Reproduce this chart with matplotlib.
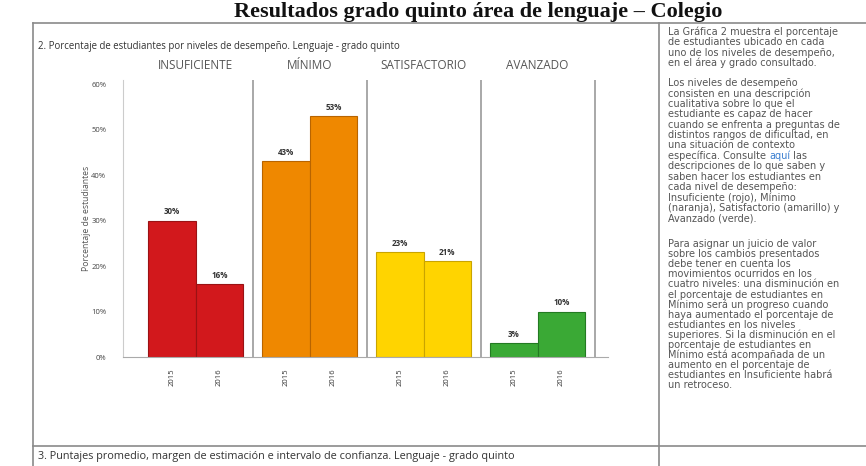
import matplotlib
matplotlib.use("Agg")
import matplotlib.pyplot as plt
from matplotlib.lines import Line2D

plt.rcParams['font.family'] = ['Open Sans', 'DejaVu Sans']

# ---- data ----
niveles = ["INSUFICIENTE", "MÍNIMO", "SATISFACTORIO", "AVANZADO"]
anios = ["2015", "2016"]
valores_2015 = [30, 43, 23, 3]
valores_2016 = [16, 53, 21, 10]
etiquetas_2015 = ["30%", "43%", "23%", "3%"]
etiquetas_2016 = ["16%", "53%", "21%", "10%"]
colores = ["#D2181C", "#EF8800", "#FFD400", "#3AA935"]
bordes = ["#9A1214", "#B86400", "#C9A400", "#237A22"]
yticks = [0, 10, 20, 30, 40, 50, 60]
ytick_labels = ["0%", "10%", "20%", "30%", "40%", "50%", "60%"]

titulo_panel = "2. Porcentaje de estudiantes por niveles de desempeño. Lenguaje - grado quinto"
titulo_sig = "3. Puntajes promedio, margen de estimación e intervalo de confianza. Lenguaje - grado quinto"
encabezado = "Resultados grado quinto área de lenguaje – Colegio"

parrafo1 = ["La Gráfica 2 muestra el porcentaje",
            "de estudiantes ubicado en cada",
            "uno de los niveles de desempeño,",
            "en el área y grado consultado."]
parrafo2 = ["Los niveles de desempeño",
            "consisten en una descripción",
            "cualitativa sobre lo que el",
            "estudiante es capaz de hacer",
            "cuando se enfrenta a preguntas de",
            "distintos rangos de dificultad, en",
            "una situación de contexto",
            "específica. Consulte aquí las",
            "descripciones de lo que saben y",
            "saben hacer los estudiantes en",
            "cada nivel de desempeño:",
            "Insuficiente (rojo), Mínimo",
            "(naranja), Satisfactorio (amarillo) y",
            "Avanzado (verde)."]
parrafo3 = ["Para asignar un juicio de valor",
            "sobre los cambios presentados",
            "debe tener en cuenta los",
            "movimientos ocurridos en los",
            "cuatro niveles: una disminución en",
            "el porcentaje de estudiantes en",
            "Mínimo será un progreso cuando",
            "haya aumentado el porcentaje de",
            "estudiantes en los niveles",
            "superiores. Si la disminución en el",
            "porcentaje de estudiantes en",
            "Mínimo está acompañada de un",
            "aumento en el porcentaje de",
            "estudiantes en Insuficiente habrá",
            "un retroceso."]

W, H = 866, 466
fig = plt.figure(figsize=(W / 100, H / 100), dpi=100)
fig.patch.set_facecolor("white")

def fx(px):
    return px / W

def fy(py):
    return 1 - py / H

# ---- page frame lines ----
line_col = "#8a8a8a"
for (x0, y0, x1, y1) in [(33, 23, 866, 23), (33, 446, 866, 446),
                         (33, 23, 33, 466), (659, 23, 659, 466)]:
    fig.add_artist(Line2D([fx(x0), fx(x1)], [fy(y0), fy(y1)], color=line_col, lw=1.2))

# heading at top (partly hidden in the source screenshot)
fig.text(fx(478), fy(16.5), encabezado, family="Liberation Serif", weight="bold",
         fontsize=16, ha="center", va="baseline", color="#111111")

fig.text(fx(38), fy(46), titulo_panel, fontsize=6.9, color="#333333", va="center")
fig.text(fx(38), fy(456), titulo_sig, fontsize=7.8, color="#333333", va="center")

# ---- chart ----
ax_left, ax_right, ax_top, ax_bot = 123, 608, 80, 357
ax = fig.add_axes([fx(ax_left), fy(ax_bot), (ax_right - ax_left) / W, (ax_bot - ax_top) / H])
ax.set_xlim(-0.636, 3.618)
ax.set_ylim(0, 60.88)

bw = 0.417
for i in range(len(niveles)):
    for j, (vals, labs) in enumerate([(valores_2015, etiquetas_2015), (valores_2016, etiquetas_2016)]):
        xc = i + (j - 0.5) * bw
        ax.bar(xc, vals[i], width=bw, color=colores[i], edgecolor=bordes[i], linewidth=0.8)
        ax.text(xc, vals[i] + 0.9, labs[i], ha="center", va="bottom", fontsize=5.8,
                fontweight="bold", color="#333333")
    ax.axvline(i + 0.5, color="#999999", lw=1.2, ymin=0, ymax=1)
    ax.text(i, 62.6, niveles[i], ha="center", va="bottom", fontsize=8.5, color="#555555",
            clip_on=False)

xt = []
xl = []
for i in range(len(niveles)):
    for j in range(2):
        xt.append(i + (j - 0.5) * bw)
        xl.append(anios[j])
ax.set_xticks(xt)
ax.set_xticklabels(xl, rotation=90, fontsize=5.5, color="#333333")
ax.set_yticks(yticks)
ax.set_yticklabels(ytick_labels, fontsize=5.5, color="#444444")
ax.tick_params(axis="both", length=0, pad=8)
ax.tick_params(axis="y", pad=12)
for s in ["top", "right"]:
    ax.spines[s].set_visible(False)
ax.spines["left"].set_color("#cccccc")
ax.spines["bottom"].set_color("#aaaaaa")
ax.set_ylabel("Porcentaje de estudiantes", fontsize=6.2, color="#555555")
ax.yaxis.set_label_coords(-0.066, 0.5)

# ---- right text column ----
txt_x = fx(668)
fs = 7.0
fam = ["DejaVu Sans"]
starts = [32, 83, 244]
steps = [10.3, 10.4, 10.1]
for para, y, step in zip([parrafo1, parrafo2, parrafo3], starts, steps):
    for ln in para:
        if "aquí" in ln:
            pre, post = ln.split("aquí")
            t = fig.text(txt_x, fy(y), pre, fontsize=fs, family=fam, color="#555555", va="center")
            fig.canvas.draw()
            bb = t.get_window_extent()
            t2 = fig.text(bb.x1 / W, fy(y), "aquí", fontsize=fs, family=fam, color="#3b7fd0", va="center")
            fig.canvas.draw()
            bb2 = t2.get_window_extent()
            fig.text(bb2.x1 / W, fy(y), post, fontsize=fs, family=fam, color="#555555", va="center")
        else:
            fig.text(txt_x, fy(y), ln, fontsize=fs, family=fam, color="#555555", va="center")
        y += step

fig.savefig("out.png", dpi=100, facecolor="white")
